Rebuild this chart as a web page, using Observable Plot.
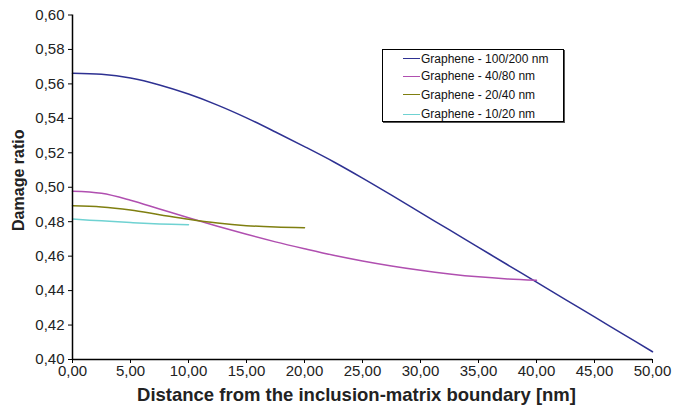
<!DOCTYPE html>
<html>
<head>
<meta charset="utf-8">
<script src="https://cdn.jsdelivr.net/npm/d3@7"></script>
<script src="https://cdn.jsdelivr.net/npm/@observablehq/plot@0.6"></script>
<style>
  html, body { margin: 0; padding: 0; background: #fff; }
  #wrap { position: relative; width: 678px; height: 407px; font-family: "Liberation Sans", Arial, sans-serif; }
  #legend { position: absolute; left: 382px; top: 49px; width: 182px; height: 73px; border: 1px solid #000; background: #fff; box-sizing: border-box; box-shadow: 1px 1px 0 #555; }
  .row { position: absolute; left: 20px; height: 14px; display: flex; align-items: center; font-size: 12px; color: #111; white-space: nowrap; }
  .sw { width: 17px; height: 0; border-top: 1.5px solid; margin-right: 1px; }
</style>
</head>
<body>
<div id="wrap"></div>
<script>
// Data
const seriesNames = ["Graphene - 100/200 nm", "Graphene - 40/80 nm", "Graphene - 20/40 nm", "Graphene - 10/20 nm"];
const seriesColors = ["#2e3192", "#b04fb0", "#7f7f10", "#6fd2d2"];

const x100 = [0, 2.5, 5, 7.5, 10, 12.5, 15, 17.5, 20, 22.5, 25, 27.5, 30, 32.5, 35, 37.5, 40, 42.5, 45, 47.5, 50];
const y100 = [0.5662, 0.5656, 0.5634, 0.5594, 0.5541, 0.5477, 0.5403, 0.5321, 0.5236, 0.5148, 0.5053, 0.4954, 0.4853, 0.4752, 0.4651, 0.4550, 0.4449, 0.4348, 0.4247, 0.4146, 0.4045];

const x40 = [0, 2.5, 5, 7.5, 10, 12.5, 15, 17.5, 20, 22.5, 25, 27.5, 30, 32.5, 35, 37.5, 40];
const y40 = [0.4977, 0.4965, 0.4925, 0.4874, 0.4823, 0.4774, 0.4727, 0.4683, 0.4643, 0.4605, 0.4572, 0.4543, 0.4518, 0.4497, 0.4480, 0.4468, 0.4460];

const x20 = [0, 2.5, 5, 7.5, 10, 12.5, 15, 17.5, 20];
const y20 = [0.4892, 0.4886, 0.4868, 0.4841, 0.4814, 0.4792, 0.4777, 0.4769, 0.4765];

const x10 = [0, 2.5, 5, 7.5, 10];
const y10 = [0.4815, 0.4805, 0.4795, 0.4787, 0.4782];

const xTicks = [0, 5, 10, 15, 20, 25, 30, 35, 40, 45, 50];
const yTicks = [0.40, 0.42, 0.44, 0.46, 0.48, 0.50, 0.52, 0.54, 0.56, 0.58, 0.60];

const xs = [x100, x40, x20, x10];
const ys = [y100, y40, y20, y10];
const data = [];
xs.forEach((arr, i) => arr.forEach((x, j) => data.push({series: seriesNames[i], x, y: ys[i][j]})));

const comma = (d, n) => d.toFixed(n).replace(".", ",");

const chart = Plot.plot({
  width: 678,
  height: 407,
  marginLeft: 72,
  marginRight: 26,
  marginTop: 14.5,
  marginBottom: 48,
  style: { fontFamily: "Liberation Sans, Arial, sans-serif", fontSize: "15px", color: "#222", background: "#fff" },
  x: { domain: [0, 50] },
  y: { domain: [0.40, 0.60] },
  color: { domain: seriesNames, range: seriesColors },
  marks: [
    Plot.axisX({ ticks: xTicks, tickFormat: d => comma(d, 2), tickSize: 4, tickPadding: 2, fontSize: 15, label: null, stroke: "#000" }),
    Plot.axisY({ ticks: yTicks, tickFormat: d => comma(d, 2), tickSize: 4, tickPadding: 4, fontSize: 15, label: null, stroke: "#000" }),
    Plot.line(data, { x: "x", y: "y", z: "series", stroke: "series", strokeWidth: 1.5, curve: "catmull-rom" }),
    Plot.ruleX([0], { stroke: "#000", strokeWidth: 1.5 }),
    Plot.ruleY([0.40], { stroke: "#000", strokeWidth: 1.5 }),
    Plot.text(["Distance from the inclusion-matrix boundary [nm]"], { frameAnchor: "bottom", textAnchor: "middle", lineAnchor: "bottom", dy: 41, dx: -6, fontSize: 18.5, fontWeight: "bold", fill: "#222" }),
    Plot.text(["Damage ratio"], { frameAnchor: "left", textAnchor: "middle", rotate: -90, dx: -54, dy: -7, fontSize: 16, fontWeight: "bold", fill: "#222" })
  ]
});

const wrap = document.getElementById("wrap");
wrap.appendChild(chart);

const legend = document.createElement("div");
legend.id = "legend";
const rowTops = [1.5, 19, 37.5, 57];
seriesNames.forEach((name, i) => {
  const row = document.createElement("div");
  row.className = "row";
  row.style.top = rowTops[i] + "px";
  const sw = document.createElement("span");
  sw.className = "sw";
  sw.style.borderColor = seriesColors[i];
  row.appendChild(sw);
  row.appendChild(document.createTextNode(name));
  legend.appendChild(row);
});
wrap.appendChild(legend);
</script>
</body>
</html>
